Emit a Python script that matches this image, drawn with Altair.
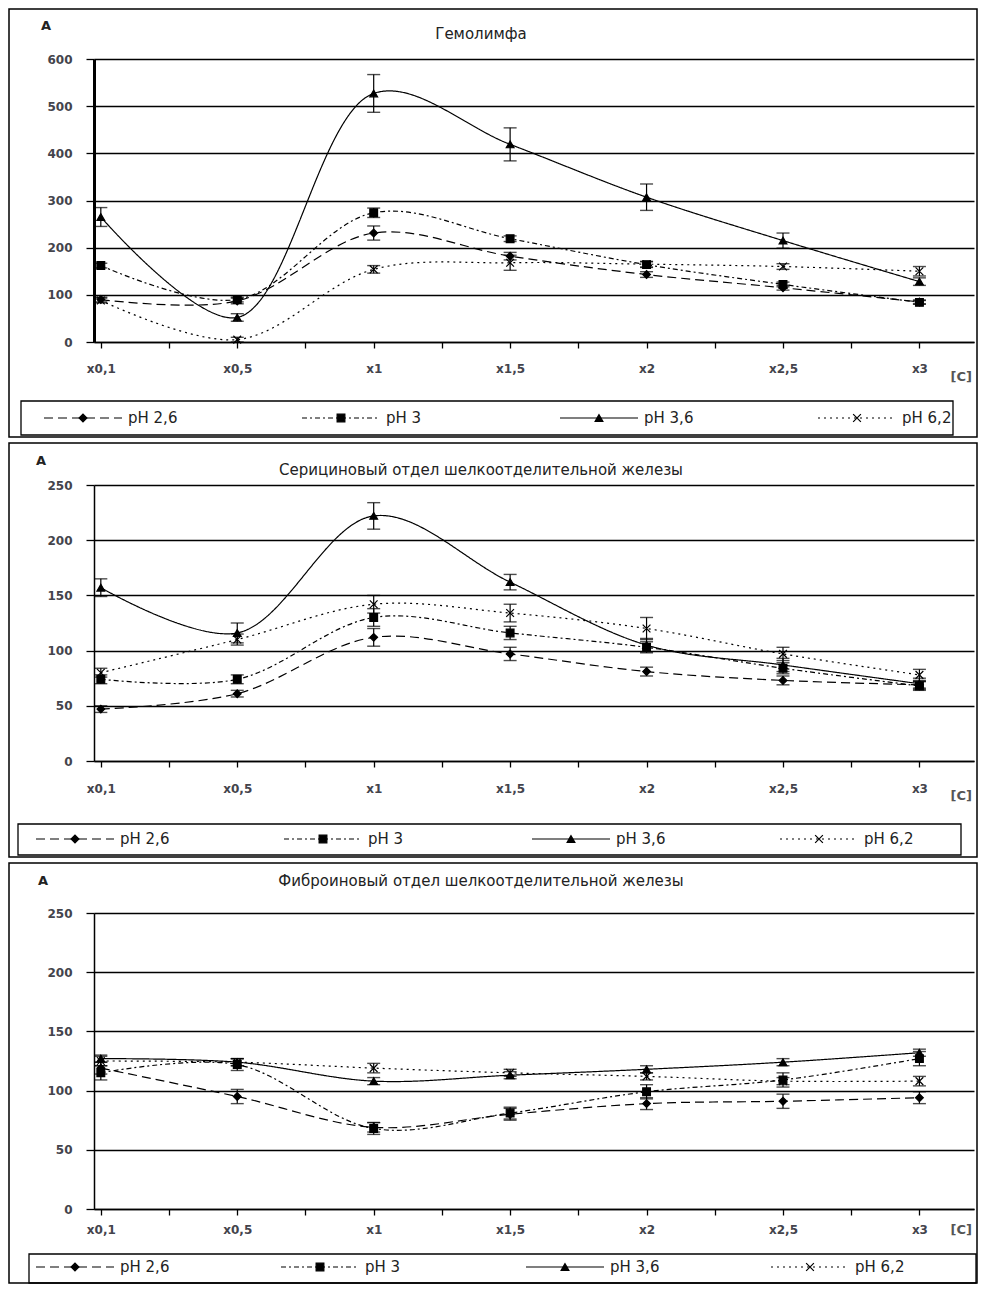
import altair as alt
import pandas as pd

# ---------------- data ----------------
categories = ["x0,1", "x0,5", "x1", "x1,5", "x2", "x2,5", "x3"]
series = ["pH 2,6", "pH 3", "pH 3,6", "pH 6,2"]
legend_labels = ["pH 2,6", "pH 3", "pH 3,6", "pH 6,2"]

title_hemo = "Гемолимфа"
title_seric = "Серициновый отдел шелкоотделительной железы"
title_fibro = "Фиброиновый отдел шелкоотделительной железы"
y_label = "A"
x_unit = "[C]"

hemo_ph26 = [90, 87, 231, 182, 143, 115, 85]
hemo_ph26_err = [5, 6, 15, 8, 6, 5, 4]
hemo_ph3 = [162, 90, 274, 219, 164, 122, 84]
hemo_ph3_err = [5, 5, 10, 6, 6, 5, 4]
hemo_ph36 = [265, 52, 527, 419, 307, 215, 128]
hemo_ph36_err = [20, 8, 40, 35, 28, 16, 8]
hemo_ph62 = [88, 5, 154, 168, 165, 160, 150]
hemo_ph62_err = [5, 5, 8, 16, 6, 6, 10]

seric_ph26 = [47, 61, 112, 97, 81, 73, 69]
seric_ph26_err = [3, 3, 8, 6, 4, 4, 3]
seric_ph3 = [74, 74, 130, 116, 103, 84, 68]
seric_ph3_err = [4, 4, 8, 6, 5, 5, 4]
seric_ph36 = [157, 116, 222, 162, 105, 87, 70]
seric_ph36_err = [8, 9, 12, 7, 6, 6, 5]
seric_ph62 = [80, 110, 142, 134, 120, 97, 78]
seric_ph62_err = [4, 5, 8, 8, 10, 6, 5]

fibro_ph26 = [119, 95, 69, 80, 89, 91, 94]
fibro_ph26_err = [5, 6, 4, 5, 5, 6, 5]
fibro_ph3 = [115, 122, 68, 81, 99, 109, 127]
fibro_ph3_err = [6, 5, 5, 5, 6, 6, 6]
fibro_ph36 = [127, 124, 108, 113, 118, 124, 132]
fibro_ph36_err = [3, 3, 3, 3, 3, 3, 3]
fibro_ph62 = [125, 124, 119, 115, 112, 108, 108]
fibro_ph62_err = [4, 3, 4, 3, 3, 3, 4]

hemo_yticks = [0, 100, 200, 300, 400, 500, 600]
gland_yticks = [0, 50, 100, 150, 200, 250]

# ---------------- styles ----------------
W = 880
XDOM = [-0.05, 6.4]
PXU = W / (XDOM[1] - XDOM[0])
FONT = "DejaVu Sans"
LBL = "#44444c"
dash_range = [[9, 5], [5, 3, 2, 3], [1, 0], [2, 4]]
x_path = "M-1,-1L1,1M-1,1L1,-1"
shape_range = ["diamond", "square", "triangle-up", x_path]

xticks = [i * 0.5 for i in range(13)]
cats_js = "[" + ",".join("'%s'" % c for c in categories) + "]"
x_label_expr = "datum.value % 1 === 0 ? " + cats_js + "[datum.value] : ''"

one_row = pd.DataFrame({"k": [0]})


def make_panel(title, vals, errs, yticks, cfg):
    H = cfg["H"]
    ymax = yticks[-1]
    rows = []
    for s, v_list, e_list in zip(series, vals, errs):
        for i, (v, e) in enumerate(zip(v_list, e_list)):
            rows.append({"pos": i, "series": s, "value": v, "lo": v - e, "hi": v + e})
    df = pd.DataFrame(rows)

    xscale = alt.Scale(domain=XDOM, nice=False, zero=False)
    yscale = alt.Scale(domain=[0, ymax], nice=False, zero=True)
    xaxis = alt.Axis(values=xticks, labelExpr=x_label_expr, title=None, grid=False,
                     domainColor="black", domainWidth=1.5, tickColor="black",
                     tickWidth=1.3, tickSize=6, labelFont=FONT, labelFontSize=12,
                     labelFontWeight="bold", labelColor=LBL, labelPadding=cfg["xpad"],
                     labelFlush=False, labelOverlap=False)
    yaxis = alt.Axis(values=yticks, title=None, grid=True, gridColor="black",
                     gridWidth=1.3, domainColor="black", domainWidth=cfg["dw"],
                     tickColor="black", tickWidth=1.3, tickSize=8, labelFont=FONT,
                     labelFontSize=12, labelFontWeight="bold", labelColor=LBL,
                     labelPadding=14)

    def X(f):
        return alt.X(f + ":Q", scale=xscale, axis=xaxis)

    def Y(f):
        return alt.Y(f + ":Q", scale=yscale, axis=yaxis)

    dash_enc = alt.StrokeDash("series:N", scale=alt.Scale(domain=series, range=dash_range), legend=None)
    shape_enc = alt.Shape("series:N", scale=alt.Scale(domain=series, range=shape_range), legend=None)

    base = alt.Chart(df)
    lines = base.mark_line(interpolate="catmull-rom", strokeWidth=1.2, color="black").encode(
        x=X("pos"), y=Y("value"), strokeDash=dash_enc, detail="series:N")
    err = base.mark_rule(color="black", strokeWidth=1.2).encode(
        x=X("pos"), y=Y("lo"), y2="hi:Q")
    cap_lo = base.mark_tick(orient="horizontal", size=13, thickness=1.4, color="black").encode(
        x=X("pos"), y=Y("lo"))
    cap_hi = base.mark_tick(orient="horizontal", size=13, thickness=1.4, color="black").encode(
        x=X("pos"), y=Y("hi"))
    pts = base.mark_point(filled=True, fill="black", stroke="black", strokeWidth=1.2,
                          size=60, opacity=1).encode(x=X("pos"), y=Y("value"), shape=shape_enc)

    # legend (positions come from the x scale)
    leg_df = pd.DataFrame({"series": series, "i": list(range(4)), "label": legend_labels})
    start = "(%f + (%f + datum.i * %f) / %f)" % (XDOM[0], cfg["leg_x0"], cfg["leg_step"], PXU)
    leg = alt.Chart(leg_df).transform_calculate(
        x0=start,
        x1=start + " + %f" % (78 / PXU),
        xm=start + " + %f" % (39 / PXU),
        xl=start + " + %f" % (84 / PXU),
    )
    ly = cfg["leg_y"]
    leg_rule = leg.mark_rule(strokeWidth=1.2, color="black").encode(
        x=X("x0"), x2="x1:Q", y=alt.value(ly), strokeDash=dash_enc)
    leg_pts = leg.mark_point(filled=True, fill="black", stroke="black", strokeWidth=1.2,
                             size=60, opacity=1).encode(x=X("xm"), y=alt.value(ly), shape=shape_enc)
    leg_txt = leg.mark_text(align="left", baseline="middle", font=FONT, fontSize=15,
                            color="#222").encode(x=X("xl"), y=alt.value(ly), text="label:N")

    bx0, bx1, by0, by1 = cfg["box"]
    frame = alt.Chart(one_row).mark_rect(filled=False, stroke="black", strokeWidth=1.5,
                                         fillOpacity=0).encode(
        x=alt.value(-85), x2=alt.value(W + 3), y=alt.value(-cfg["top"]), y2=alt.value(H + cfg["bottom"]))
    box = alt.Chart(one_row).mark_rect(filled=False, stroke="black", strokeWidth=1.3,
                                       fillOpacity=0).encode(
        x=alt.value(bx0), x2=alt.value(bx1), y=alt.value(by0), y2=alt.value(by1))
    ttl = alt.Chart(one_row).mark_text(align="center", baseline="middle", font=FONT,
                                       fontSize=15, color="#222").encode(
        x=alt.value(cfg["title_x"]), y=alt.value(cfg["title_y"]), text=alt.value(title))
    a_lbl = alt.Chart(one_row).mark_text(align="center", baseline="middle", font=FONT,
                                         fontSize=13, fontWeight="bold", color="#222").encode(
        x=alt.value(cfg["a"][0]), y=alt.value(cfg["a"][1]), text=alt.value(y_label))
    c_lbl = alt.Chart(one_row).mark_text(align="right", baseline="middle", font=FONT,
                                         fontSize=13, fontWeight="bold", color="#555").encode(
        x=alt.value(W - 2), y=alt.value(cfg["c_y"]), text=alt.value(x_unit))

    return alt.layer(frame, box, lines, err, cap_lo, cap_hi, pts,
                     leg_rule, leg_pts, leg_txt, ttl, a_lbl, c_lbl).properties(width=W, height=H)


H1, H2, H3 = 283, 276, 296
cfg1 = dict(H=H1, top=50, bottom=95, xpad=15, dw=3, box=(-73, 859, H1 + 59, H1 + 93),
            leg_y=H1 + 76, leg_x0=-50, leg_step=258, title_x=387, title_y=-25,
            a=(-48, -33), c_y=H1 + 35)
cfg2 = dict(H=H2, top=42, bottom=96, xpad=16, dw=1.5, box=(-76, 867, H2 + 63, H2 + 94),
            leg_y=H2 + 78, leg_x0=-58, leg_step=248, title_x=387, title_y=-15,
            a=(-53, -24), c_y=H2 + 35)
cfg3 = dict(H=H3, top=50, bottom=74, xpad=9, dw=1.5, box=(-65, 882, H3 + 45, H3 + 74),
            leg_y=H3 + 58, leg_x0=-58, leg_step=245, title_x=387, title_y=-32,
            a=(-51, -32), c_y=H3 + 21)

p1 = make_panel(title_hemo, [hemo_ph26, hemo_ph3, hemo_ph36, hemo_ph62],
                [hemo_ph26_err, hemo_ph3_err, hemo_ph36_err, hemo_ph62_err], hemo_yticks, cfg1)
p2 = make_panel(title_seric, [seric_ph26, seric_ph3, seric_ph36, seric_ph62],
                [seric_ph26_err, seric_ph3_err, seric_ph36_err, seric_ph62_err], gland_yticks, cfg2)
p3 = make_panel(title_fibro, [fibro_ph26, fibro_ph3, fibro_ph36, fibro_ph62],
                [fibro_ph26_err, fibro_ph3_err, fibro_ph36_err, fibro_ph62_err], gland_yticks, cfg3)

chart = alt.vconcat(p1, p2, p3, spacing=4).properties(padding=0).configure_view(strokeWidth=0)

chart.save("out.html", embed_options={"renderer": "svg", "actions": False})
